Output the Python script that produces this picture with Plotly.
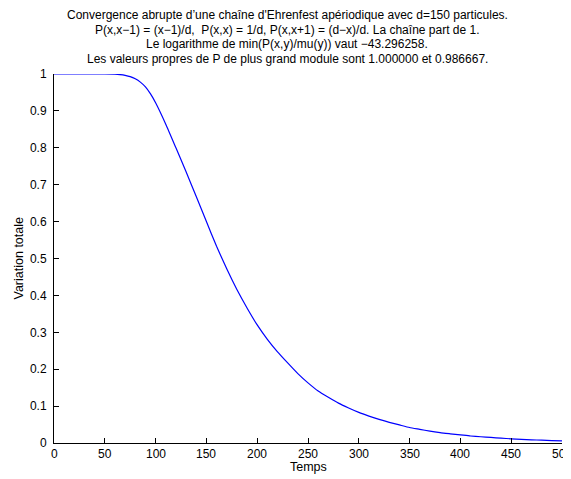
import plotly.graph_objects as go

temps = [0, 10, 20, 30, 40, 50, 60, 65, 70, 75, 80, 85, 90, 95, 100, 110, 120, 130,
         140, 150, 160, 170, 180, 190, 200, 210, 220, 230, 240, 250, 260, 270, 280,
         290, 300, 310, 320, 330, 340, 350, 360, 370, 380, 390, 400, 410, 420, 430,
         440, 450, 460, 470, 480, 490, 500]
variation = [1.0, 1.0, 1.0, 1.0, 1.0, 1.0, 0.9995, 0.9985, 0.9965, 0.993, 0.987,
             0.978, 0.965, 0.946, 0.922, 0.864, 0.80, 0.735, 0.668, 0.60, 0.533,
             0.472, 0.416, 0.366, 0.32, 0.281, 0.247, 0.217, 0.188, 0.163, 0.141,
             0.124, 0.108, 0.095, 0.083, 0.073, 0.064, 0.056, 0.049, 0.042, 0.037,
             0.032, 0.028, 0.025, 0.022, 0.019, 0.017, 0.015, 0.013, 0.0113, 0.0099,
             0.0087, 0.0076, 0.0066, 0.0058]

x_ticks = [0, 50, 100, 150, 200, 250, 300, 350, 400, 450, 500]
x_labels = ["0", "50", "100", "150", "200", "250", "300", "350", "400", "450", "500"]
y_ticks = [0, 0.1, 0.2, 0.3, 0.4, 0.5, 0.6, 0.7, 0.8, 0.9, 1]
y_labels = ["0", "0.1", "0.2", "0.3", "0.4", "0.5", "0.6", "0.7", "0.8", "0.9", "1"]

title_lines = [
    "Convergence abrupte d\u2019une chaîne d'Ehrenfest apériodique avec d=150 particules.",
    "P(x,x\u22121) = (x\u22121)/d,  P(x,x) = 1/d, P(x,x+1) = (d\u2212x)/d. La chaîne part de 1.",
    "Le logarithme de min(P(x,y)/mu(y)) vaut \u221243.296258.",
    "Les valeurs propres de P de plus grand module sont 1.000000 et 0.986667.",
]

font = "Liberation Sans, Arial, Helvetica, sans-serif"
# the page body has an 8px margin, so the figure is drawn 8px smaller and offset
OFF = 8
W, H = 571 - OFF, 479 - OFF
L, R, T, B = 54 - OFF, 9, 74 - OFF, 36
ph = H - T - B
pw = W - L - R

fig = go.Figure()
fig.add_trace(go.Scatter(x=temps, y=variation, mode="lines",
                         line=dict(color="#0000ff", width=1.2, shape="spline",
                                   smoothing=0.5),
                         showlegend=False, cliponaxis=False))

annotations = []
centers = [15, 30, 44.5, 59]
for line, yc in zip(title_lines, centers):
    annotations.append(dict(text=line, xref="paper", yref="paper",
                            x=(287 - 54) / pw, y=1 + (74 - yc) / ph,
                            xanchor="center", yanchor="middle", showarrow=False,
                            font=dict(family=font, size=12, color="black")))
for v, lab in zip(x_ticks, x_labels):
    annotations.append(dict(text=lab, xref="x", yref="paper", x=v, y=-(454 - 443) / ph,
                            xanchor="center", yanchor="middle", showarrow=False,
                            font=dict(family=font, size=12, color="black")))
annotations.append(dict(text="Temps", xref="paper", yref="paper",
                        x=(308 - 54) / pw, y=-(467 - 443) / ph,
                        xanchor="center", yanchor="middle", showarrow=False,
                        font=dict(family=font, size=12.5, color="black")))
annotations.append(dict(text="Variation totale", xref="paper", yref="paper",
                        x=-(54 - 18) / pw, y=0.5, textangle=-90,
                        xanchor="center", yanchor="middle", showarrow=False,
                        font=dict(family=font, size=12.5, color="black")))

fig.update_layout(
    width=W, height=H,
    margin=dict(l=L, r=R, t=T, b=B, autoexpand=False),
    paper_bgcolor="white", plot_bgcolor="white",
    font=dict(family=font, size=12, color="black"),
    annotations=annotations,
    xaxis=dict(range=[0, 500], tickvals=x_ticks, ticks="inside", ticklen=5,
               tickcolor="black", showline=True, linecolor="black", linewidth=1,
               showgrid=False, zeroline=False, mirror=False, showticklabels=False,
               automargin=False),
    yaxis=dict(range=[0, 1], tickvals=y_ticks, ticktext=y_labels, ticks="inside",
               ticklen=5, tickcolor="black", showline=True, linecolor="black",
               linewidth=1, showgrid=False, zeroline=False, mirror=False,
               automargin=False, ticklabelstandoff=4,
               tickfont=dict(family=font, size=12, color="black")),
)

fig.write_html("out.html")
